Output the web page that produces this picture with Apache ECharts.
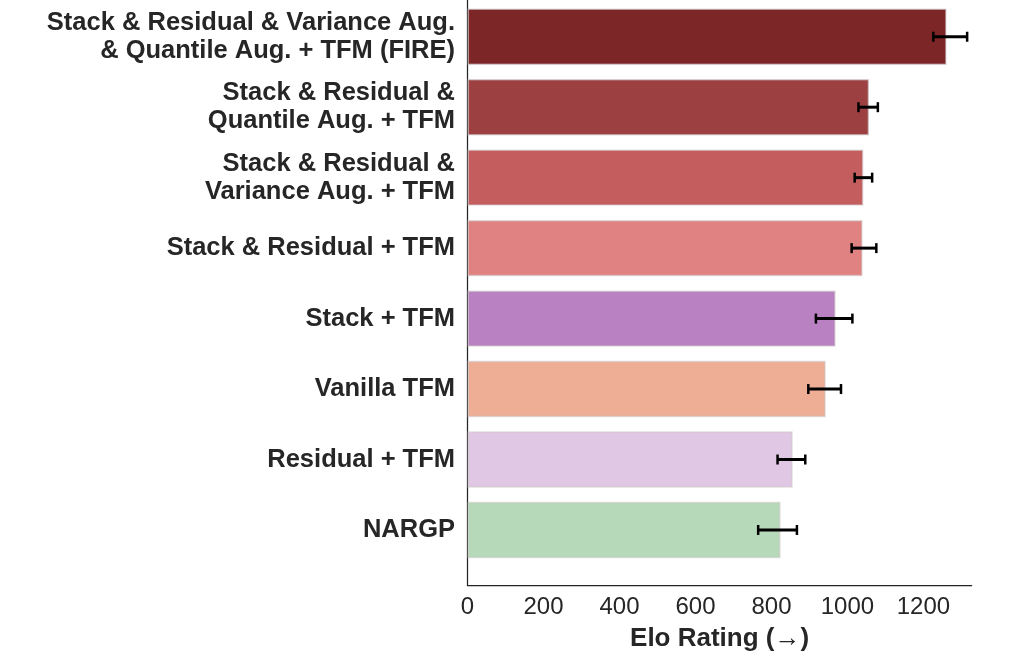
<!DOCTYPE html>
<html>
<head>
<meta charset="utf-8">
<title>Elo Rating</title>
<script src="https://cdn.jsdelivr.net/npm/echarts@6/dist/echarts.min.js"></script>
<style>
  html, body { margin: 0; padding: 0; background: #fff; }
  #chart { width: 1030px; height: 660px; }
</style>
</head>
<body>
<div id="chart"></div>
<script>
// data
const categories = [
  'Stack & Residual & Variance Aug.\n& Quantile Aug. + TFM (FIRE)',
  'Stack & Residual &\nQuantile Aug. + TFM',
  'Stack & Residual &\nVariance Aug. + TFM',
  'Stack & Residual + TFM',
  'Stack + TFM',
  'Vanilla TFM',
  'Residual + TFM',
  'NARGP'
];
const elo = [1261, 1057, 1042, 1040, 969, 943, 856, 824];
const ciLow = [1226, 1029, 1019, 1011, 917, 897, 816, 765];
const ciHigh = [1315, 1080, 1065, 1076, 1013, 983, 889, 867];
const colors = ['#7c2628', '#9d4041', '#c45e5e', '#e08282', '#b981c1', '#eeae96', '#e0c8e4', '#b6d9b9'];
const xTicks = [0, 200, 400, 600, 800, 1000, 1200];

const FONT = '"Liberation Sans", Arial, Helvetica, sans-serif';
const TEXT = '#262626';
const X_MAX = 1327;

const chart = echarts.init(document.getElementById('chart'), null, { renderer: 'canvas' });

const option = {
  backgroundColor: '#fff',
  animation: false,
  grid: [
    // bars
    { left: 467.5, right: 58.3, top: 1.5, height: 563.7 },
    // axis frame (spines + x ticks)
    { left: 467.5, right: 58.3, top: 0, height: 585.5 }
  ],
  xAxis: [
    { gridIndex: 0, type: 'value', min: 0, max: X_MAX, show: false },
    {
      gridIndex: 1, type: 'value', min: 0, max: X_MAX, interval: 200,
      axisLine: { show: true, lineStyle: { color: TEXT, width: 1.25 } },
      axisTick: { show: false },
      splitLine: { show: false },
      axisLabel: {
        show: true, margin: 10, fontSize: 24, color: TEXT, fontFamily: FONT,
        showMaxLabel: false,
        formatter: v => (xTicks.indexOf(v) >= 0 ? String(v) : '')
      },
      name: 'Elo Rating (\u2192)',
      nameLocation: 'middle',
      nameGap: 40,
      nameTextStyle: { fontSize: 26, fontWeight: 'bold', color: TEXT, fontFamily: FONT }
    }
  ],
  yAxis: [
    {
      gridIndex: 0, type: 'category', data: categories, inverse: true,
      axisLine: { show: false },
      axisTick: { show: false },
      splitLine: { show: false },
      axisLabel: {
        margin: 12.5, fontSize: 25.5, fontWeight: 'bold', color: TEXT,
        fontFamily: FONT, lineHeight: 28, align: 'right', padding: [10, 0, 0, 0]
      }
    },
    {
      gridIndex: 1, type: 'value', min: 0, max: 1,
      axisLine: { show: true, lineStyle: { color: TEXT, width: 1.25 } },
      axisTick: { show: false },
      axisLabel: { show: false },
      splitLine: { show: false }
    }
  ],
  series: [
    {
      type: 'bar',
      xAxisIndex: 0,
      yAxisIndex: 0,
      barCategoryGap: '20%',
      data: elo.map((v, i) => ({
        value: v,
        itemStyle: {
          color: colors[i],
          borderColor: 'rgba(205,200,200,0.55)',
          borderWidth: 1.5
        }
      }))
    },
    {
      type: 'custom',
      xAxisIndex: 0,
      yAxisIndex: 0,
      z: 5,
      data: ciLow.map((lo, i) => [lo, ciHigh[i], i]),
      renderItem: (params, api) => {
        const lo = api.coord([api.value(0), api.value(2)]);
        const hi = api.coord([api.value(1), api.value(2)]);
        const cap = 5;
        const capStyle = { stroke: '#000', lineWidth: 2.5 };
        return {
          type: 'group',
          children: [
            { type: 'line', shape: { x1: lo[0], y1: lo[1], x2: hi[0], y2: hi[1] }, style: { stroke: '#000', lineWidth: 3 } },
            { type: 'line', shape: { x1: lo[0], y1: lo[1] - cap, x2: lo[0], y2: lo[1] + cap }, style: capStyle },
            { type: 'line', shape: { x1: hi[0], y1: hi[1] - cap, x2: hi[0], y2: hi[1] + cap }, style: capStyle }
          ]
        };
      }
    }
  ]
};

chart.setOption(option);
</script>
</body>
</html>
